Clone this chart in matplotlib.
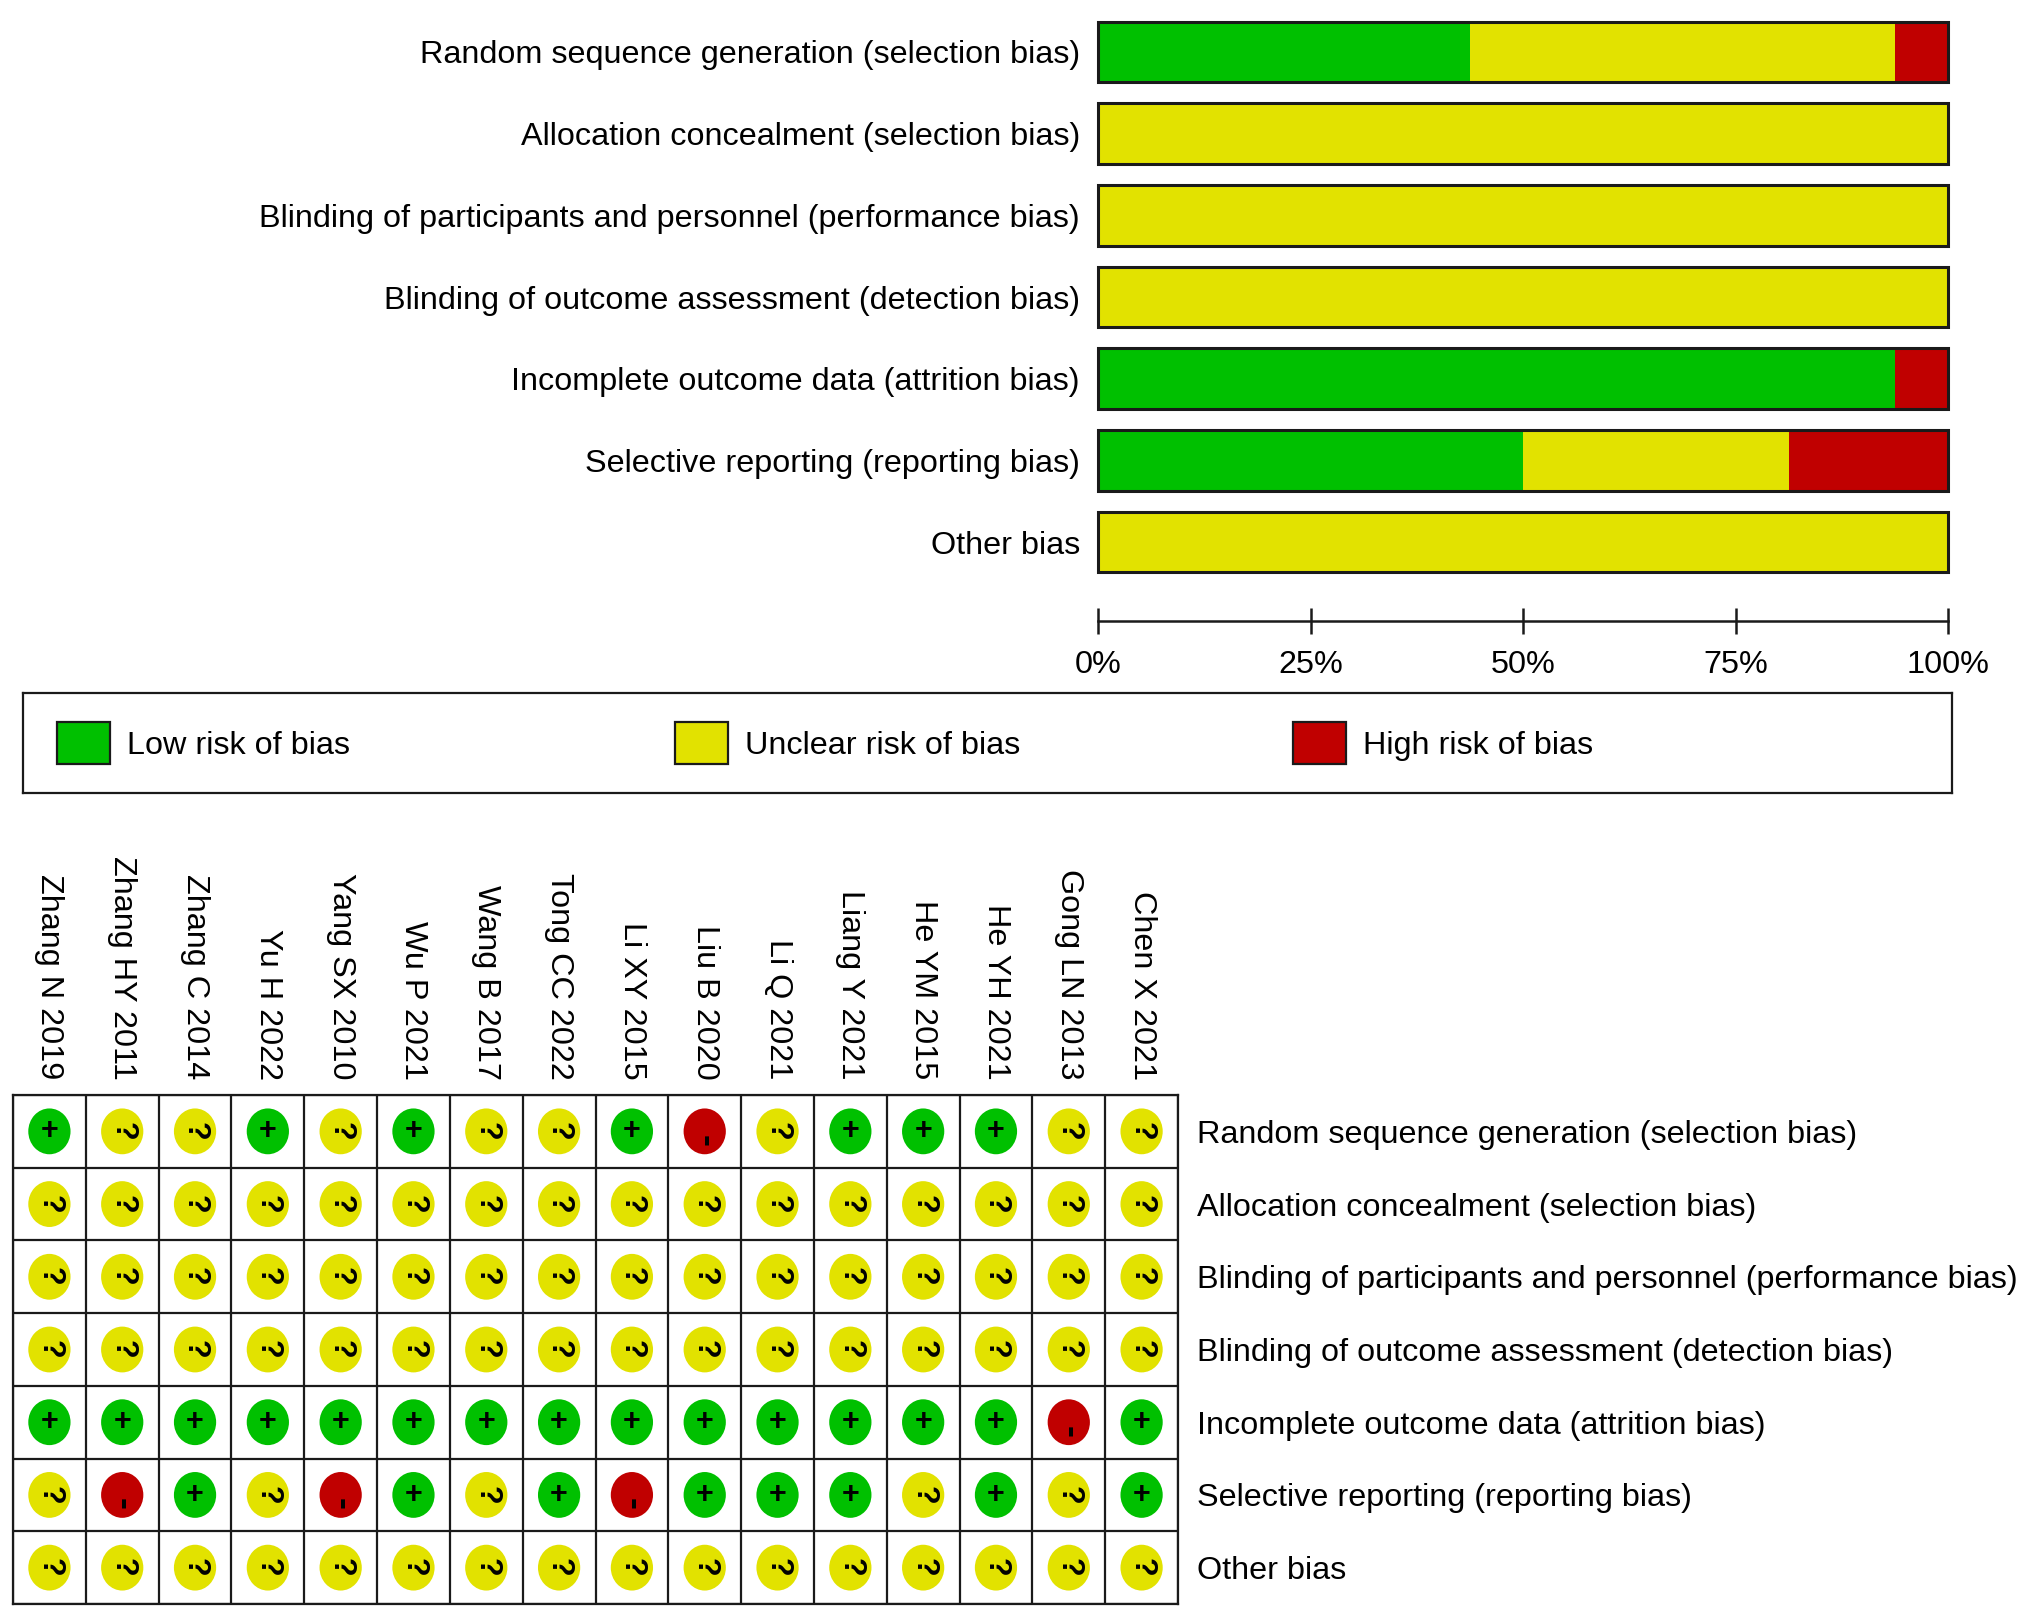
import numpy as np
import matplotlib
matplotlib.use("Agg")
import matplotlib.pyplot as plt
from matplotlib.patches import Patch, Ellipse
from matplotlib.legend import Legend

plt.rcParams['font.family'] = ['Liberation Sans', 'DejaVu Sans']

# ---------------- data ----------------
domains = [
    "Random sequence generation (selection bias)",
    "Allocation concealment (selection bias)",
    "Blinding of participants and personnel (performance bias)",
    "Blinding of outcome assessment (detection bias)",
    "Incomplete outcome data (attrition bias)",
    "Selective reporting (reporting bias)",
    "Other bias",
]
studies = ["Zhang N 2019", "Zhang HY 2011", "Zhang C 2014", "Yu H 2022",
           "Yang SX 2010", "Wu P 2021", "Wang B 2017", "Tong CC 2022",
           "Li XY 2015", "Liu B 2020", "Li Q 2021", "Liang Y 2021",
           "He YM 2015", "He YH 2021", "Gong LN 2013", "Chen X 2021"]
# one string per domain, one character per study: + low, ? unclear, - high
random_sequence = "+??+?+??+-?+++??"
allocation      = "????????????????"
blind_partic    = "????????????????"
blind_outcome   = "????????????????"
incomplete      = "++++++++++++++-+"
selective       = "?-+?-+?+-+++?+?+"
other           = "????????????????"
judgements = [random_sequence, allocation, blind_partic, blind_outcome,
              incomplete, selective, other]

levels = ["+", "?", "-"]
level_labels = ["Low risk of bias", "Unclear risk of bias", "High risk of bias"]
level_colors = ["#00C000", "#E2E200", "#C00000"]
pct_ticks = [0, 25, 50, 75, 100]
pct_labels = ["0%", "25%", "50%", "75%", "100%"]

# percentages per domain and level
pct = np.array([[100.0 * row.count(l) / len(row) for l in levels] for row in judgements])

# ---------------- figure ----------------
W, H = 2032, 1620
fig = plt.figure(figsize=(W / 100, H / 100), dpi=100)
FS = 23.3
EDGE = "#1a1a1a"


def frac(x0, y0, x1, y1):
    return [x0 / W, 1 - y1 / H, (x1 - x0) / W, (y1 - y0) / H]


# ---- summary bar chart ----
ax = fig.add_axes(frac(1098, 11, 1948, 583))
ypos = np.arange(len(domains))
left = np.zeros(len(domains))
for k in range(len(levels)):
    ax.barh(ypos, pct[:, k], left=left, height=0.74, color=level_colors[k],
            linewidth=0, clip_on=False)
    left += pct[:, k]
ax.barh(ypos, 100, left=0, height=0.74, fill=False, edgecolor=EDGE,
        linewidth=2.2, clip_on=False)
ax.set_xlim(0, 100)
ax.set_ylim(len(domains) - 0.5, -0.5)
for s in ["left", "top", "right"]:
    ax.spines[s].set_visible(False)
ax.spines["bottom"].set_position(("outward", 27))
ax.spines["bottom"].set_bounds(0, 100)
ax.spines["bottom"].set_linewidth(1.8)
ax.spines["bottom"].set_color(EDGE)
ax.set_xticks(pct_ticks)
ax.set_xticklabels(pct_labels, fontsize=FS)
ax.tick_params(axis="x", direction="inout", length=18.7, width=1.8,
               color=EDGE, pad=12)
ax.set_yticks(ypos)
ax.set_yticklabels(domains, fontsize=FS)
ax.tick_params(axis="y", length=0, pad=13)

# ---- legend ----
lax = fig.add_axes(frac(23, 693, 1952, 793))
lax.set_xticks([])
lax.set_yticks([])
for s in lax.spines.values():
    s.set_linewidth(1.6)
    s.set_color(EDGE)
for k in range(len(levels)):
    h = Patch(facecolor=level_colors[k], edgecolor=EDGE, linewidth=1.6)
    leg = Legend(lax, [h], [level_labels[k]], loc="center left",
                 bbox_to_anchor=(0.0176 + k * 0.3204, 0.5),
                 frameon=False, fontsize=FS, handlelength=1.64,
                 handleheight=1.64, handletextpad=0.52, borderpad=0,
                 borderaxespad=0)
    lax.add_artist(leg)

# ---- traffic-light grid ----
gx = fig.add_axes(frac(13, 1095, 1178, 1604))
ns, nd = len(studies), len(domains)
gx.set_xlim(-0.5, ns - 0.5)
gx.set_ylim(nd - 0.5, -0.5)
gx.set_xticks(np.arange(ns))
gx.set_xticks(np.arange(ns + 1) - 0.5, minor=True)
gx.set_yticks(np.arange(nd))
gx.set_yticks(np.arange(nd + 1) - 0.5, minor=True)
gx.grid(which="minor", color=EDGE, linewidth=1.6)
gx.tick_params(which="both", length=0)
gx.xaxis.tick_top()
gx.yaxis.tick_right()
gx.set_xticklabels(studies, fontsize=FS, rotation=270,
                   rotation_mode="anchor", ha="right", va="center")
gx.tick_params(axis="x", pad=11)
gx.set_yticklabels(domains, fontsize=FS)
gx.tick_params(axis="y", pad=14)
for s in gx.spines.values():
    s.set_linewidth(1.6)
    s.set_color(EDGE)

for i, row in enumerate(judgements):
    for j, v in enumerate(row):
        k = levels.index(v)
        gx.add_patch(Ellipse((j, i), 0.58, 0.63, facecolor=level_colors[k],
                             edgecolor="none"))
        if v == "+":
            gx.text(j, i, "+", ha="center", va="center", fontsize=22,
                    fontweight="bold", color="black")
        elif v == "?":
            gx.text(j, i, "?", ha="center", va="center", fontsize=22,
                    fontweight="bold", rotation=270, rotation_mode="anchor",
                    color="black")
        else:
            gx.text(j, i + 0.13, "-", ha="center", va="center", fontsize=26,
                    fontweight="bold", rotation=270, rotation_mode="anchor",
                    color="black")

fig.savefig("out.png", dpi=100, facecolor="white")
